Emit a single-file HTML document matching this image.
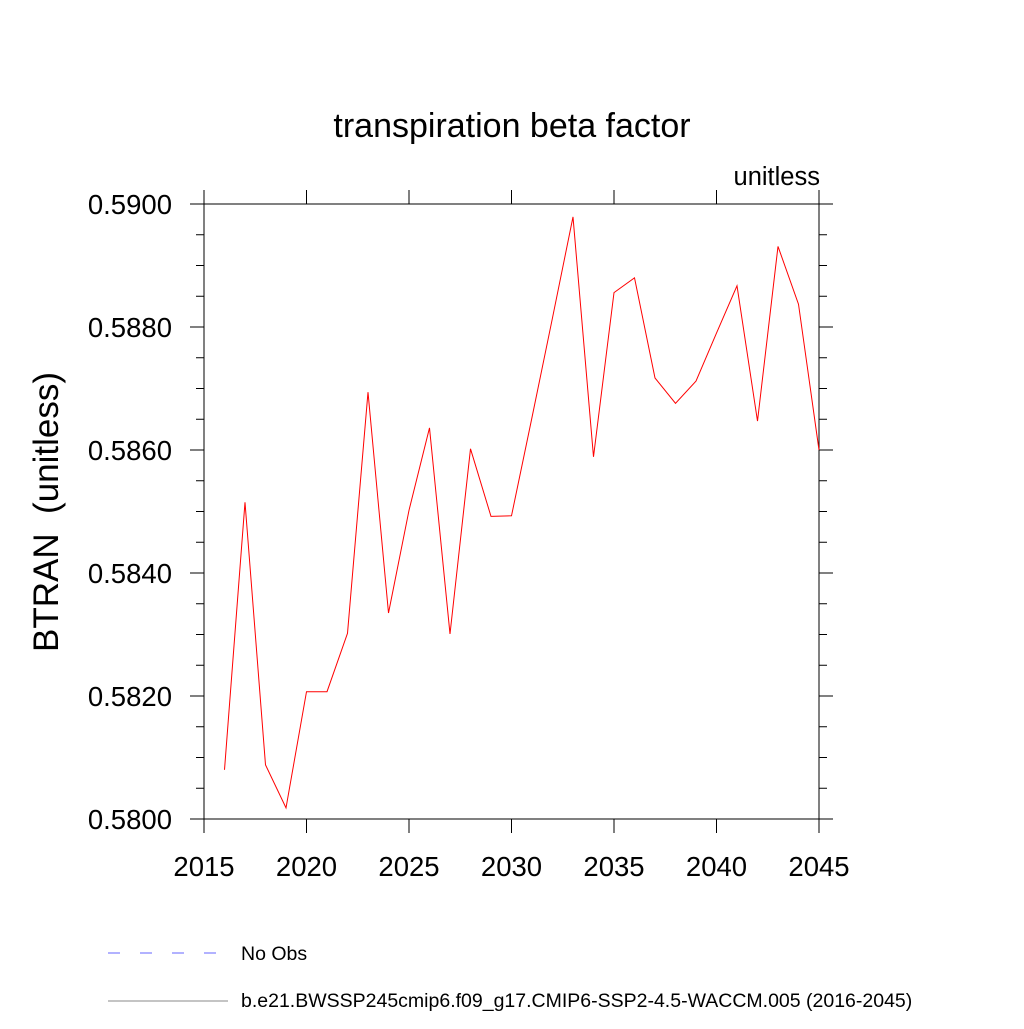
<!DOCTYPE html>
<html><head><meta charset="utf-8"><style>
body{margin:0;background:#fff;}
svg text{font-family:"Liberation Sans",sans-serif;fill:#000;}
</style></head><body>
<svg id="chart" width="1024" height="1024" xmlns="http://www.w3.org/2000/svg">
<text x="512" y="137" font-size="34" text-anchor="middle">transpiration beta factor</text>
<text x="820" y="185" font-size="25.5" text-anchor="end">unitless</text>
<text transform="translate(58,512) rotate(-90)" font-size="35" text-anchor="middle">BTRAN&#160;&#160;(unitless)</text>
<g id="axes"></g>
<g id="series"></g>
<g>
<line x1="108" y1="953" x2="216" y2="953" stroke="#6666ff" stroke-width="1" stroke-dasharray="12,20"/>
<text x="241" y="960" font-size="19.5">No Obs</text>
<line x1="108" y1="1001" x2="228" y2="1001" stroke="#888" stroke-width="1"/>
<text x="241" y="1007" font-size="19.5">b.e21.BWSSP245cmip6.f09_g17.CMIP6-SSP2-4.5-WACCM.005 (2016-2045)</text>
</g>
</svg>
<script>
const years=[2016,2017,2018,2019,2020,2021,2022,2023,2024,2025,2026,2027,2028,2029,2030,2031,2032,2033,2034,2035,2036,2037,2038,2039,2040,2041,2042,2043,2044,2045];
const btran=[0.58080,0.58515,0.58088,0.58018,0.58207,0.58207,0.58302,0.58694,0.58335,0.58502,0.58636,0.58301,0.58602,0.58492,0.58493,0.58653,0.58815,0.58979,0.58589,0.58856,0.58880,0.58717,0.58676,0.58712,0.58790,0.58867,0.58647,0.58931,0.58837,0.58600];
const xTicks=[2015,2020,2025,2030,2035,2040,2045];
const yTicks=[0.58,0.582,0.584,0.586,0.588,0.59];
const yTickLabels=["0.5800","0.5820","0.5840","0.5860","0.5880","0.5900"];
const X0=204,X1=819,Y0=819,Y1=204,xmin=2015,xmax=2045,ymin=0.58,ymax=0.59;
const sx=v=>X0+(v-xmin)/(xmax-xmin)*(X1-X0);
const sy=v=>Y0-(v-ymin)/(ymax-ymin)*(Y0-Y1);
const NS="http://www.w3.org/2000/svg";
const axes=document.getElementById('axes');
function mk(tag,attrs,parent){const e=document.createElementNS(NS,tag);for(const k in attrs)e.setAttribute(k,attrs[k]);parent.appendChild(e);return e;}
const frame=mk('rect',{x:X0,y:Y1,width:X1-X0,height:Y0-Y1,fill:'none',stroke:'#000','stroke-width':1},axes);


xTicks.forEach(t=>{
 const x=sx(t);
 const a=mk('line',{x1:x,y1:Y0,x2:x,y2:Y0+14,stroke:'#000'},axes);
 
 
 const b=mk('line',{x1:x,y1:Y1,x2:x,y2:Y1-14,stroke:'#000'},axes);
 
 
 const l=mk('text',{x:x,y:876,'font-size':27.5,'text-anchor':'middle'},axes);
 l.textContent=t;
 
 
});
for(let i=0;i<=20;i++){
 const v=ymin+i*(ymax-ymin)/20, y=sy(v), major=i%4===0, len=major?14:8;
 const a=mk('line',{x1:X0,y1:y,x2:X0-len,y2:y,stroke:'#000'},axes);
 
 
 const b=mk('line',{x1:X1,y1:y,x2:X1+len,y2:y,stroke:'#000'},axes);
 
 
}
yTicks.forEach((t,i)=>{
 const l=mk('text',{x:172,y:sy(t)+10,'font-size':27.5,'text-anchor':'end'},axes);
 l.textContent=yTickLabels[i];
 
 
});
const pts=years.map((y,i)=>sx(y).toFixed(1)+','+sy(btran[i]).toFixed(1)).join(' ');
const line=mk('polyline',{points:pts,fill:'none',stroke:'#ff0000','stroke-width':1},document.getElementById('series'));


</script>
</body></html>
